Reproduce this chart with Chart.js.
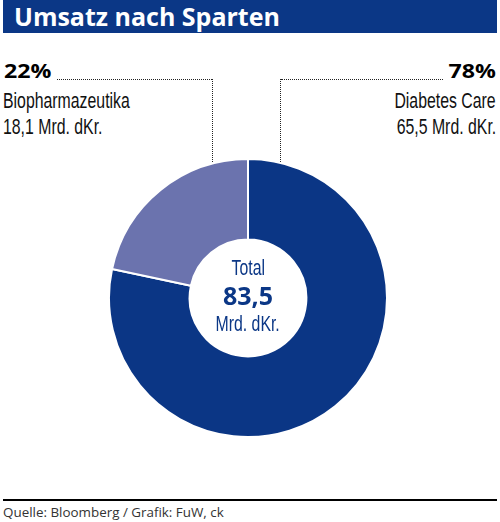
<!DOCTYPE html>
<html>
<head>
<meta charset="utf-8">
<script src="https://cdn.jsdelivr.net/npm/chart.js@4"></script>
<style>
  body { margin: 0; background: #fff; width: 500px; height: 522px; position: relative; overflow: hidden; }
  .abs { position: absolute; }
  #title { left: 3px; top: 0; width: 494px; height: 33px; background: #0b3786; color: #fff;
           font: bold 25px "Open Sans", sans-serif; line-height: 33px; box-sizing: border-box; padding-left: 11px; letter-spacing: 0; }
  .pct { font: bold 19px "Open Sans", sans-serif; color: #000; line-height: 21px; white-space: nowrap; }
  .pct span { display: inline-block; transform: scaleX(1.22); }
  .lbl { font: 22px "Liberation Sans", sans-serif; color: #111; line-height: 26px; white-space: nowrap; }
  .narrow { display: inline-block; transform: scaleX(0.72); }
  .left span { transform-origin: left center; }
  .right span { transform-origin: right center; }
  .dot-h { border-top: 1.5px dotted #222; height: 0; }
  .dot-v { border-left: 1.5px dotted #222; width: 0; }
  .ctr { left: 148px; width: 200px; text-align: center; color: #0b3786; white-space: nowrap; }
  .ctr.t { font: 22px "Liberation Sans", sans-serif; line-height: 26px; }
  .ctr.t span { display: inline-block; transform: scaleX(0.72); }
  .ctr.v { font: bold 25px "Open Sans", sans-serif; line-height: 30px; }
  #rule { left: 3px; top: 499px; width: 494px; height: 2px; background: #000; }
  #source { left: 3px; top: 503px; font: 13.4px "Open Sans", sans-serif; color: #333; }
  #chartBox { left: 108px; top: 158px; width: 280px; height: 280px; }
</style>
</head>
<body>
<div id="title" class="abs">Umsatz nach Sparten</div>

<div class="abs dot-h" style="left:57px; top:79px; width:155px;"></div>
<div class="abs dot-v" style="left:212px; top:79px; height:83px;"></div>
<div class="abs dot-v" style="left:280px; top:79px; height:83px;"></div>
<div class="abs dot-h" style="left:281px; top:79px; width:162px;"></div>

<div class="abs pct left" style="left:4px; top:61px;"><span id="leftPct"></span></div>
<div class="abs lbl left" style="left:3px; top:88px;">
  <div><span class="narrow" id="leftName"></span></div>
  <div><span class="narrow" id="leftVal"></span></div>
</div>
<div class="abs pct right" style="right:4px; top:61px; text-align:right;"><span id="rightPct"></span></div>
<div class="abs lbl right" style="right:4px; top:88px; text-align:right;">
  <div><span class="narrow" id="rightName"></span></div>
  <div><span class="narrow" id="rightVal"></span></div>
</div>

<div id="chartBox" class="abs"><canvas id="pie"></canvas></div>

<div class="abs ctr t" style="top:255px;"><span>Total</span></div>
<div class="abs ctr v" style="top:280px;" id="totalVal"></div>
<div class="abs ctr t" style="top:311px;"><span id="totalUnit"></span></div>

<div id="rule" class="abs"></div>
<div id="source" class="abs">Quelle: Bloomberg / Grafik: FuW, ck</div>

<script>
const categories = ['Diabetes Care', 'Biopharmazeutika'];
const values = [65.5, 18.1];
const shares = [78, 22];
const total = 83.5;
const unit = 'Mrd. dKr.';
const colors = ['#0b3685', '#6b73ae'];

function fmt(v) {
    return v.toFixed(1).replace('.', ',');
}

document.getElementById('rightPct').textContent = shares[0] + '%';
document.getElementById('rightName').textContent = categories[0];
document.getElementById('rightVal').textContent = fmt(values[0]) + ' ' + unit;
document.getElementById('leftPct').textContent = shares[1] + '%';
document.getElementById('leftName').textContent = categories[1];
document.getElementById('leftVal').textContent = fmt(values[1]) + ' ' + unit;
document.getElementById('totalVal').textContent = fmt(total);
document.getElementById('totalUnit').textContent = unit;

const ctx = document.getElementById('pie').getContext('2d');
new Chart(ctx, {
    type: 'doughnut',
    data: {
        labels: categories,
        datasets: [{
            data: values,
            backgroundColor: colors,
            borderColor: '#fff',
            borderWidth: 2
        }]
    },
    options: {
        responsive: true,
        maintainAspectRatio: false,
        animation: false,
        cutout: '42%',
        layout: { padding: 0 },
        plugins: {
            legend: { display: false },
            tooltip: { enabled: false }
        }
    }
});
</script>
</body>
</html>
